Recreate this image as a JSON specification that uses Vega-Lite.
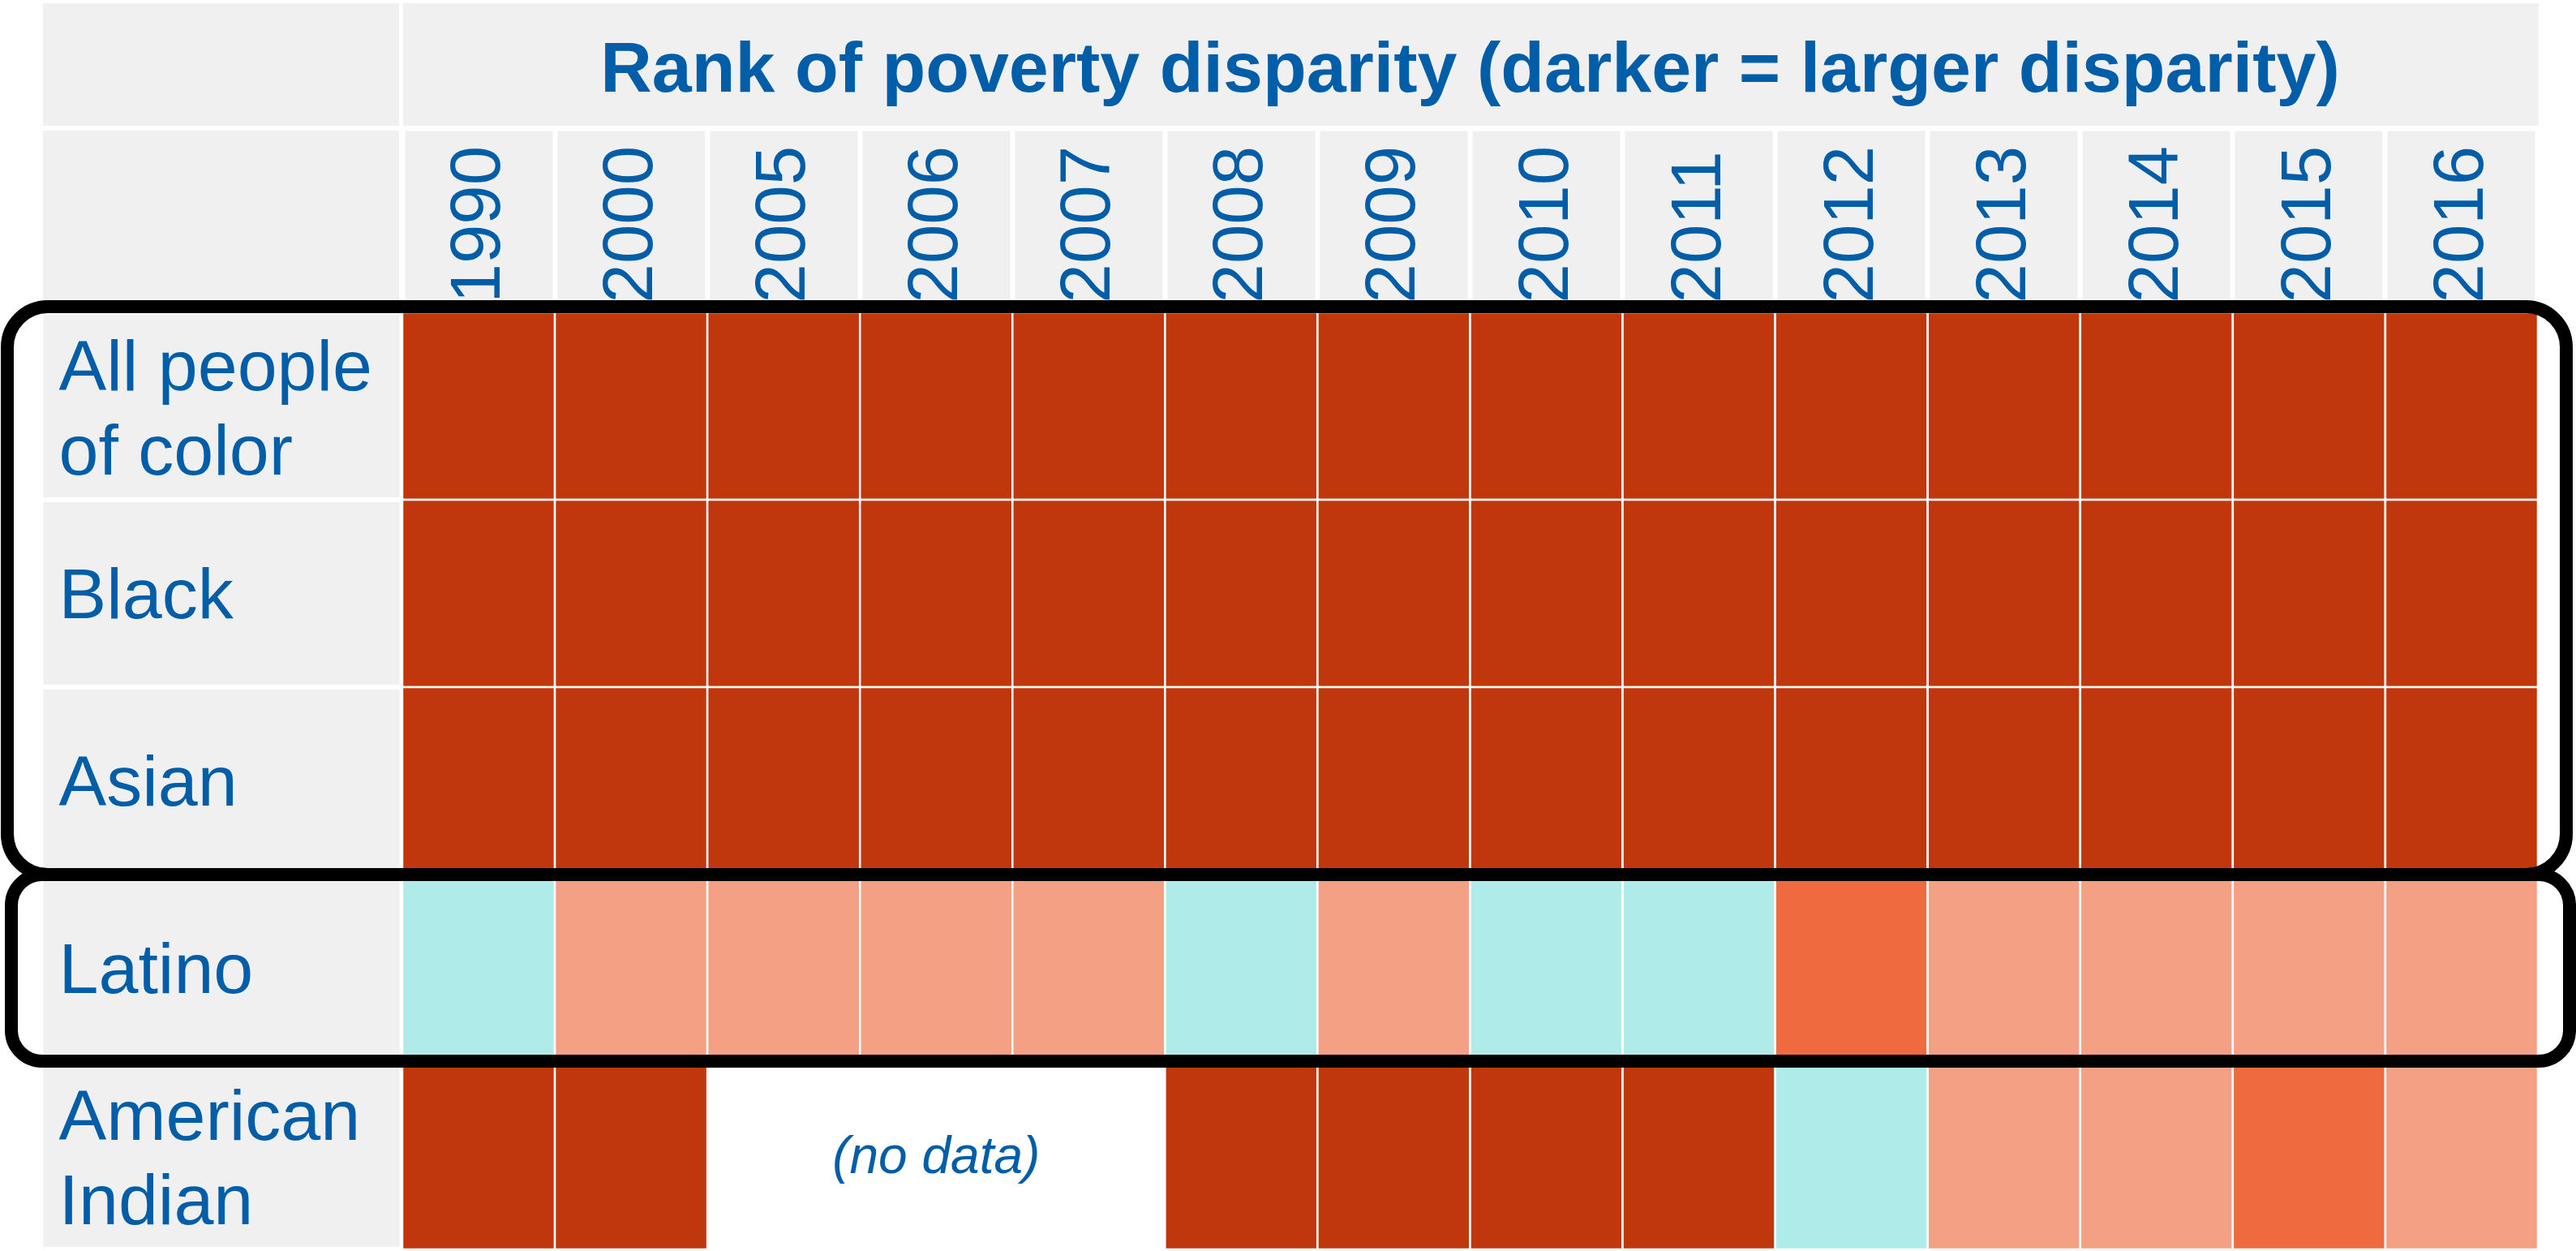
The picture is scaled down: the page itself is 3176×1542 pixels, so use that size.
{
  "$schema": "https://vega.github.io/schema/vega-lite/v6.json",
  "width": 2633,
  "height": 1155,
  "autosize": {"type": "none"},
  "padding": {"left": 496, "top": 385, "right": 47, "bottom": 2},
  "background": "white",
  "config": {"view": {"stroke": null}, "font": "Liberation Sans"},
  "datasets": {
    "cells": [
      {"group": "All people of color", "year": "1990", "disparity": "highest"},
      {"group": "All people of color", "year": "2000", "disparity": "highest"},
      {"group": "All people of color", "year": "2005", "disparity": "highest"},
      {"group": "All people of color", "year": "2006", "disparity": "highest"},
      {"group": "All people of color", "year": "2007", "disparity": "highest"},
      {"group": "All people of color", "year": "2008", "disparity": "highest"},
      {"group": "All people of color", "year": "2009", "disparity": "highest"},
      {"group": "All people of color", "year": "2010", "disparity": "highest"},
      {"group": "All people of color", "year": "2011", "disparity": "highest"},
      {"group": "All people of color", "year": "2012", "disparity": "highest"},
      {"group": "All people of color", "year": "2013", "disparity": "highest"},
      {"group": "All people of color", "year": "2014", "disparity": "highest"},
      {"group": "All people of color", "year": "2015", "disparity": "highest"},
      {"group": "All people of color", "year": "2016", "disparity": "highest"},
      {"group": "Black", "year": "1990", "disparity": "highest"},
      {"group": "Black", "year": "2000", "disparity": "highest"},
      {"group": "Black", "year": "2005", "disparity": "highest"},
      {"group": "Black", "year": "2006", "disparity": "highest"},
      {"group": "Black", "year": "2007", "disparity": "highest"},
      {"group": "Black", "year": "2008", "disparity": "highest"},
      {"group": "Black", "year": "2009", "disparity": "highest"},
      {"group": "Black", "year": "2010", "disparity": "highest"},
      {"group": "Black", "year": "2011", "disparity": "highest"},
      {"group": "Black", "year": "2012", "disparity": "highest"},
      {"group": "Black", "year": "2013", "disparity": "highest"},
      {"group": "Black", "year": "2014", "disparity": "highest"},
      {"group": "Black", "year": "2015", "disparity": "highest"},
      {"group": "Black", "year": "2016", "disparity": "highest"},
      {"group": "Asian", "year": "1990", "disparity": "highest"},
      {"group": "Asian", "year": "2000", "disparity": "highest"},
      {"group": "Asian", "year": "2005", "disparity": "highest"},
      {"group": "Asian", "year": "2006", "disparity": "highest"},
      {"group": "Asian", "year": "2007", "disparity": "highest"},
      {"group": "Asian", "year": "2008", "disparity": "highest"},
      {"group": "Asian", "year": "2009", "disparity": "highest"},
      {"group": "Asian", "year": "2010", "disparity": "highest"},
      {"group": "Asian", "year": "2011", "disparity": "highest"},
      {"group": "Asian", "year": "2012", "disparity": "highest"},
      {"group": "Asian", "year": "2013", "disparity": "highest"},
      {"group": "Asian", "year": "2014", "disparity": "highest"},
      {"group": "Asian", "year": "2015", "disparity": "highest"},
      {"group": "Asian", "year": "2016", "disparity": "highest"},
      {"group": "Latino", "year": "1990", "disparity": "low"},
      {"group": "Latino", "year": "2000", "disparity": "moderate"},
      {"group": "Latino", "year": "2005", "disparity": "moderate"},
      {"group": "Latino", "year": "2006", "disparity": "moderate"},
      {"group": "Latino", "year": "2007", "disparity": "moderate"},
      {"group": "Latino", "year": "2008", "disparity": "low"},
      {"group": "Latino", "year": "2009", "disparity": "moderate"},
      {"group": "Latino", "year": "2010", "disparity": "low"},
      {"group": "Latino", "year": "2011", "disparity": "low"},
      {"group": "Latino", "year": "2012", "disparity": "high"},
      {"group": "Latino", "year": "2013", "disparity": "moderate"},
      {"group": "Latino", "year": "2014", "disparity": "moderate"},
      {"group": "Latino", "year": "2015", "disparity": "moderate"},
      {"group": "Latino", "year": "2016", "disparity": "moderate"},
      {"group": "American Indian", "year": "1990", "disparity": "highest"},
      {"group": "American Indian", "year": "2000", "disparity": "highest"},
      {"group": "American Indian", "year": "2008", "disparity": "highest"},
      {"group": "American Indian", "year": "2009", "disparity": "highest"},
      {"group": "American Indian", "year": "2010", "disparity": "highest"},
      {"group": "American Indian", "year": "2011", "disparity": "highest"},
      {"group": "American Indian", "year": "2012", "disparity": "low"},
      {"group": "American Indian", "year": "2013", "disparity": "moderate"},
      {"group": "American Indian", "year": "2014", "disparity": "moderate"},
      {"group": "American Indian", "year": "2015", "disparity": "high"},
      {"group": "American Indian", "year": "2016", "disparity": "moderate"}
    ],
    "notes": [
      {"group": "American Indian", "year": "2006", "note": "(no data)"}
    ],
    "heading": [
      {"title": "Rank of poverty disparity (darker = larger disparity)"}
    ],
    "frameAll": [
      {"top": "All people of color", "bottom": "Asian"}
    ],
    "frameLatino": [
      {"top": "Latino", "bottom": "Latino"}
    ]
  },
  "layer": [
    {
      "data": {"name": "heading"},
      "mark": {"type": "rect", "fill": "#F0F0F0"},
      "encoding": {
        "x": {"datum": "1990", "type": "nominal", "bandPosition": -2.3555, "title": null, "axis": {"orient": "top"}},
        "x2": {"datum": "1990", "bandPosition": -0.0213},
        "y": {"datum": "All people of color", "type": "nominal", "bandPosition": -1.649, "title": null},
        "y2": {"datum": "All people of color", "bandPosition": -0.9957}
      }
    },
    {
      "data": {"name": "heading"},
      "mark": {"type": "rect", "fill": "#F0F0F0"},
      "encoding": {
        "x": {"datum": "1990", "type": "nominal", "bandPosition": 0.005, "title": null, "axis": {"orient": "top"}},
        "x2": {"datum": "2016", "bandPosition": 1.005},
        "y": {"datum": "All people of color", "type": "nominal", "bandPosition": -1.649, "title": null},
        "y2": {"datum": "All people of color", "bandPosition": -0.9957}
      }
    },
    {
      "data": {"name": "heading"},
      "mark": {"type": "rect", "fill": "#F0F0F0"},
      "encoding": {
        "x": {"datum": "1990", "type": "nominal", "bandPosition": -2.3555, "title": null, "axis": {"orient": "top"}},
        "x2": {"datum": "1990", "bandPosition": -0.0213},
        "y": {"datum": "All people of color", "type": "nominal", "bandPosition": -0.9697, "title": null},
        "y2": {"datum": "All people of color", "bandPosition": 0}
      }
    },
    {
      "data": {"name": "cells"},
      "mark": {"type": "rect", "stroke": "white", "strokeWidth": 2.5},
      "encoding": {
        "x": {
          "field": "year", "type": "nominal", "title": null,
          "scale": {"domain": ["1990","2000","2005","2006","2007","2008","2009","2010","2011","2012","2013","2014","2015","2016"], "paddingInner": 0, "paddingOuter": 0},
          "axis": {
            "orient": "top", "title": null, "domain": false, "grid": false, "zindex": 0,
            "ticks": true, "tickSize": 224, "tickWidth": 182, "tickColor": "#F0F0F0",
            "labelAngle": 270, "labelAlign": "left", "labelBaseline": "middle",
            "labelPadding": -212, "labelFontSize": 87, "labelColor": "#005EA8",
            "labelFont": "Liberation Sans", "labelOverlap": false, "labelLimit": 0
          }
        },
        "y": {
          "field": "group", "type": "nominal", "title": null,
          "scale": {"domain": ["All people of color", "Black", "Asian", "Latino", "American Indian"], "paddingInner": 0, "paddingOuter": 0},
          "axis": {
            "orient": "left", "title": null, "domain": false, "grid": false, "offset": 4, "zindex": 0,
            "ticks": true, "tickSize": 439, "tickWidth": 225, "tickColor": "#F0F0F0",
            "labelAlign": "left", "labelBaseline": "middle", "labelPadding": -19,
            "labelOffset": {"condition": {"test": "datum.value == 'All people of color' || datum.value == 'American Indian'", "value": -46}, "value": 4},
            "labelFontSize": 88, "labelColor": "#005EA8", "labelFont": "Liberation Sans",
            "labelLineHeight": 104, "labelOverlap": false, "labelLimit": 0,
            "labelExpr": "datum.label == 'All people of color' ? ['All people', 'of color'] : datum.label == 'American Indian' ? ['American', 'Indian'] : datum.label"
          }
        },
        "color": {
          "field": "disparity", "type": "nominal", "legend": null,
          "scale": {"domain": ["highest", "high", "moderate", "low"], "range": ["#C0370E", "#F06A40", "#F4A084", "#AFEBE9"]}
        }
      }
    },
    {
      "data": {"name": "notes"},
      "mark": {"type": "text", "fontSize": 64, "fontStyle": "italic", "color": "#005EA8", "align": "center", "baseline": "middle", "font": "Liberation Sans"},
      "encoding": {
        "x": {"field": "year", "type": "nominal", "bandPosition": 0.5, "title": null, "axis": {"orient": "top"}},
        "y": {"field": "group", "type": "nominal", "bandPosition": 0.51, "title": null},
        "text": {"field": "note"}
      }
    },
    {
      "data": {"name": "heading"},
      "mark": {"type": "text", "fontSize": 88, "fontWeight": "bold", "color": "#005EA8", "align": "center", "baseline": "alphabetic", "font": "Liberation Sans"},
      "encoding": {
        "x": {"datum": "2010", "type": "nominal", "bandPosition": 0, "title": null, "axis": {"orient": "top"}},
        "y": {"datum": "All people of color", "type": "nominal", "bandPosition": -1.1775, "title": null},
        "text": {"field": "title"}
      }
    },
    {
      "data": {"name": "frameAll"},
      "mark": {"type": "rect", "fill": null, "filled": false, "stroke": "black", "strokeWidth": 16, "cornerRadius": 50},
      "encoding": {
        "x": {"datum": "1990", "type": "nominal", "bandPosition": -2.5895, "title": null, "axis": {"orient": "top"}},
        "x2": {"datum": "2016", "bandPosition": 1.1862},
        "y": {"field": "top", "type": "nominal", "bandPosition": -0.0303, "title": null},
        "y2": {"field": "bottom", "bandPosition": 1.0}
      }
    },
    {
      "data": {"name": "frameLatino"},
      "mark": {"type": "rect", "fill": null, "filled": false, "stroke": "black", "strokeWidth": 16, "cornerRadius": 38},
      "encoding": {
        "x": {"datum": "1990", "type": "nominal", "bandPosition": -2.5629, "title": null, "axis": {"orient": "top"}},
        "x2": {"datum": "2016", "bandPosition": 1.2075},
        "y": {"field": "top", "type": "nominal", "bandPosition": 0, "title": null},
        "y2": {"field": "bottom", "bandPosition": 0.9957}
      }
    }
  ]
}
